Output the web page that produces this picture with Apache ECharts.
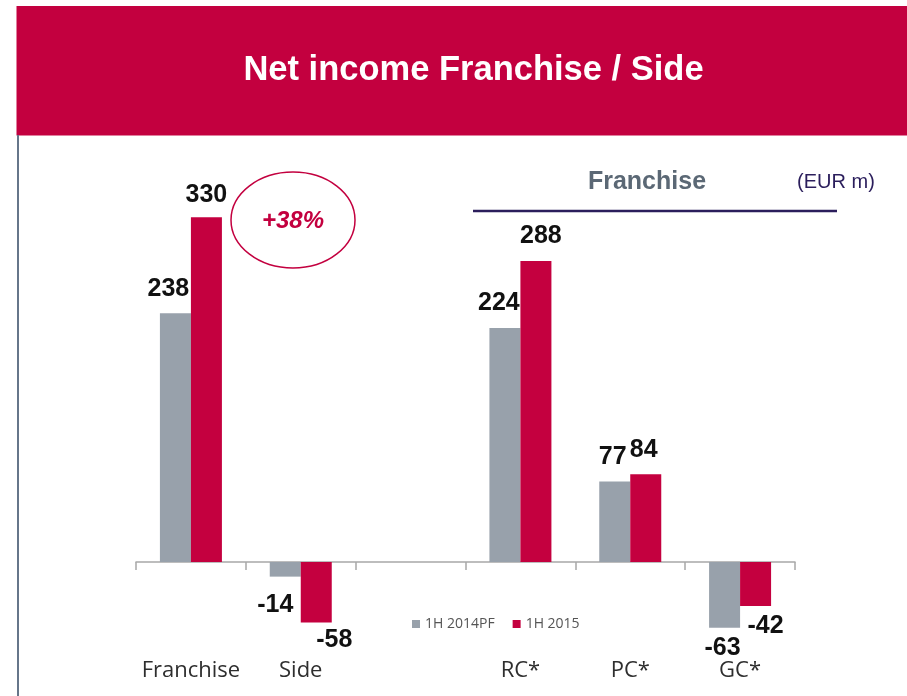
<!DOCTYPE html>
<html>
<head>
<meta charset="utf-8">
<script src="https://cdn.jsdelivr.net/npm/echarts@6/dist/echarts.min.js"></script>
<style>
html,body{margin:0;padding:0;background:#fff;}
#chart{width:907px;height:696px;}
</style>
</head>
<body>
<div id="chart"></div>
<script>
var categories = ['Franchise', 'Side', '', 'RC*', 'PC*', 'GC*'];
var seriesNames = ['1H 2014PF', '1H 2015'];
var values2014 = [238, -14, null, 224, 77, -63];
var values2015 = [330, -58, null, 288, 84, -42];
var titleText = 'Net income Franchise / Side';
var subtitleText = 'Franchise';
var unitText = '(EUR m)';
var badgeText = '+38%';

// label tweaks (style only): [offsetX, distance]
var labelTweak2014 = [[-7, 12], [-10, 16], null, [-6, 12], [-2, 12], [-2, 8]];
var labelTweak2015 = [[0, 10], [18, 5], null, [5, 12], [-2, 12], [10, 8]];

var GRAY = '#98A1AB';
var RED = '#C4003F';

function buildData(vals, tweaks) {
  return vals.map(function (v, i) {
    if (v === null) return null;
    var t = tweaks[i];
    return {
      value: v,
      label: {
        position: v >= 0 ? 'top' : 'bottom',
        offset: [t[0], 0],
        distance: t[1]
      }
    };
  });
}

var chart = echarts.init(document.getElementById('chart'));
var labelStyle = {
  show: true,
  fontFamily: 'Liberation Sans, Arial, sans-serif',
  fontWeight: 'bold',
  fontSize: 25,
  color: '#111'
};

chart.setOption({
  animation: false,
  backgroundColor: '#fff',
  grid: { left: 136, right: 112, top: 144, height: 501.6, outerBoundsMode: 'none' },
  legend: {
    left: 407,
    top: 612,
    icon: 'rect',
    itemWidth: 8,
    itemHeight: 8,
    itemGap: 18,
    textStyle: { fontFamily: 'Open Sans, sans-serif', fontSize: 14, color: '#555' },
    data: seriesNames
  },
  xAxis: {
    type: 'category',
    data: categories,
    axisLine: { lineStyle: { color: '#A8A8A8', width: 1.5 } },
    axisTick: { show: true, length: 8, lineStyle: { color: '#A8A8A8', width: 1.5 } },
    axisLabel: {
      interval: 0,
      margin: 14,
      fontFamily: 'Open Sans, sans-serif',
      fontSize: 22,
      color: '#2E2E2E'
    }
  },
  yAxis: {
    type: 'value',
    min: -80,
    max: 400,
    show: false,
    splitLine: { show: false }
  },
  series: [
    {
      name: seriesNames[0],
      type: 'bar',
      barWidth: 31,
      barGap: 0,
      itemStyle: { color: GRAY },
      label: labelStyle,
      data: buildData(values2014, labelTweak2014)
    },
    {
      name: seriesNames[1],
      type: 'bar',
      barWidth: 31,
      barGap: 0,
      itemStyle: { color: RED },
      label: labelStyle,
      data: buildData(values2015, labelTweak2015)
    }
  ],
  graphic: [
    { type: 'rect', shape: { x: 16.5, y: 6, width: 891, height: 129.5 }, style: { fill: '#C3003F' }, silent: true },
    { type: 'line', shape: { x1: 18, y1: 135, x2: 18, y2: 696 }, style: { stroke: '#66768A', lineWidth: 2 }, silent: true },
    { type: 'text', x: 473.5, y: 70, style: { text: titleText, fill: '#fff', font: 'bold 34.5px "Liberation Sans", Arial, sans-serif', align: 'center', verticalAlign: 'middle' }, silent: true },
    { type: 'text', x: 647, y: 182, style: { text: subtitleText, fill: '#5B6875', font: 'bold 25px "Liberation Sans", Arial, sans-serif', align: 'center', verticalAlign: 'middle' }, silent: true },
    { type: 'text', x: 836, y: 182, style: { text: unitText, fill: '#2B1E5C', font: '20px "Liberation Sans", Arial, sans-serif', align: 'center', verticalAlign: 'middle' }, silent: true },
    { type: 'line', shape: { x1: 473, y1: 211, x2: 837, y2: 211 }, style: { stroke: '#2B1E5C', lineWidth: 2.5 }, silent: true },
    { type: 'ellipse', shape: { cx: 293, cy: 220, rx: 62, ry: 48 }, style: { fill: 'none', stroke: '#C3003F', lineWidth: 1.5 }, silent: true },
    { type: 'text', x: 293, y: 221, style: { text: badgeText, fill: '#C3003F', font: 'italic bold 24px "Liberation Sans", Arial, sans-serif', align: 'center', verticalAlign: 'middle' }, silent: true }
  ]
});
</script>
</body>
</html>
